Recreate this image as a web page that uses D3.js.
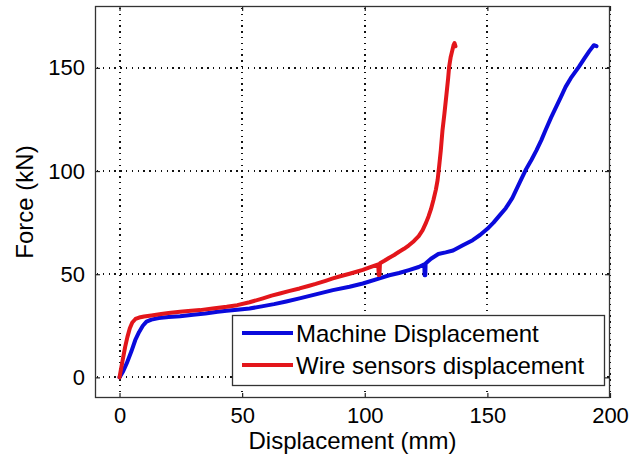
<!DOCTYPE html>
<html><head><meta charset="utf-8">
<script src="https://cdn.jsdelivr.net/npm/d3@7"></script>
<style>body{margin:0;background:#fff}svg{display:block}text{font-family:"Liberation Sans",Arial,sans-serif;fill:#000}</style>
</head><body><svg id="c" width="635" height="461"></svg>
<script>
const xTicks = [0, 50, 100, 150, 200];
const yTicks = [0, 50, 100, 150];
const seriesNames = ["Machine Displacement", "Wire sensors displacement"];
const machine = [[0,0],[1.5,3],[3,7],[4.8,12.5],[6.4,18],[8,22],[9.5,25],[11,27],[13,28],[16,28.8],[20,29.3],[24.7,29.6],[30,30.4],[35,31],[40,31.8],[43.7,32.3],[48,32.8],[53,33.4],[58,34.4],[63,35.5],[68,36.8],[73.4,38.3],[80,40.2],[87,42.3],[93.8,43.9],[99.2,45.5],[106,48],[110,49.5],[114,50.6],[118,52],[122,53.5],[124.3,54.8],[124.4,49.5],[124.7,49.5],[124.8,55.2],[127,57.5],[130,59.8],[133,60.6],[136,61.5],[140,64],[144,66.5],[147,69],[150,72],[152.5,75],[155,78.5],[157.5,82],[160.2,87],[163,94],[165.6,100.5],[168,105.5],[170,110],[172,115],[173.7,119.8],[176,126],[178,131],[180,136],[181.9,140.8],[184,145],[187.3,150.5],[189.5,154.5],[191.5,158],[193.4,161],[194.5,160.5]];
const wire = [[0,0],[0.6,4],[1.3,8.5],[2.3,14.8],[3.2,19.5],[4.2,23.8],[5.2,26.6],[6.5,28.3],[8,29],[10,29.5],[13,30],[17,30.7],[20,31.2],[24.7,31.8],[28,32.2],[32.8,32.6],[38,33.4],[43.7,34.2],[48,35],[53,36.4],[58.5,38.3],[62,39.6],[65,40.5],[69,41.8],[73.4,43.1],[77,44.3],[80,45.3],[84,46.8],[87,48],[90,49],[93.8,50.2],[97,51.3],[99.2,52.1],[102,53.3],[105.5,54.8],[105.7,49.6],[106,49.6],[106.2,55.3],[108,56.5],[110,58],[112,59.3],[114,60.9],[116,62.3],[118,64],[120,66],[122,68.5],[123.6,71.4],[125,75],[126,78],[127,81.5],[128,86],[129,91],[129.7,95.6],[130.3,102],[131,110],[131.7,119.8],[132.5,128],[133.3,137],[134,145],[134.4,150.5],[135,155],[135.6,158],[136.2,161],[136.6,162],[137,160.5]];

const W = 635, H = 461;
const m = {left: 95, right: 25, top: 6, bottom: 63};
const svg = d3.select("#c");
const x = d3.scaleLinear().domain([-10, 200]).range([m.left, W - m.right]);
const y = d3.scaleLinear().domain([-10, 180]).range([H - m.bottom, m.top]);
const x0 = x.range()[0], x1 = x.range()[1], y0 = y.range()[0], y1 = y.range()[1];

svg.append("rect").attr("x", 0).attr("y", 0).attr("width", W).attr("height", H).attr("fill", "#fff");

// grid (black dotted)
const grid = svg.append("g").attr("stroke", "#111").attr("stroke-width", 1.4)
  .attr("stroke-dasharray", "1.4,4.4").attr("shape-rendering", "crispEdges");
grid.selectAll(".gx").data(xTicks).join("line")
  .attr("x1", d => Math.round(x(d))).attr("x2", d => Math.round(x(d)))
  .attr("y1", y1 + 2).attr("y2", y0);
grid.selectAll(".gy").data(yTicks).join("line")
  .attr("y1", d => Math.round(y(d))).attr("y2", d => Math.round(y(d)))
  .attr("x1", x0 + 2).attr("x2", x1);

// axes with inward ticks
const fs = 22;
const ax = svg.append("g").attr("transform", `translate(0,${y0})`)
  .call(d3.axisBottom(x).tickValues(xTicks).tickSizeInner(-5).tickSizeOuter(0).tickPadding(9));
const axT = svg.append("g").attr("transform", `translate(0,${y1})`)
  .call(d3.axisTop(x).tickValues(xTicks).tickSizeInner(-5).tickSizeOuter(0).tickFormat(""));
const ay = svg.append("g").attr("transform", `translate(${x0},0)`)
  .call(d3.axisLeft(y).tickValues(yTicks).tickSizeInner(-5).tickSizeOuter(0).tickPadding(10));
const ayR = svg.append("g").attr("transform", `translate(${x1},0)`)
  .call(d3.axisRight(y).tickValues(yTicks).tickSizeInner(-5).tickSizeOuter(0).tickFormat(""));
[ax, axT, ay, ayR].forEach(g => {
  g.select(".domain").remove();
  g.selectAll("line").attr("stroke", "#222").attr("stroke-width", 1.2);
  g.selectAll("text").style("font-family", "'Liberation Sans', Arial, sans-serif").style("font-size", fs + "px").attr("fill", "#000");
});

// lines
const line = d3.line().x(d => x(d[0])).y(d => y(d[1]));
svg.append("path").datum(machine).attr("d", line).attr("fill", "none")
  .attr("stroke", "#0a0adc").attr("stroke-width", 4).attr("stroke-linejoin", "round").attr("stroke-linecap", "round");
svg.append("path").datum(wire).attr("d", line).attr("fill", "none")
  .attr("stroke", "#e3161b").attr("stroke-width", 4).attr("stroke-linejoin", "round").attr("stroke-linecap", "round");

// box
svg.append("rect").attr("x", x0 + 0.5).attr("y", y1 + 0.5).attr("width", x1 - x0 - 1).attr("height", y0 - y1 - 1)
  .attr("fill", "none").attr("stroke", "#333").attr("stroke-width", 1.3);

// axis titles
svg.append("text").attr("x", (x0 + x1) / 2).attr("y", 449).attr("text-anchor", "middle")
  .style("font-size", "24px").text("Displacement (mm)");
svg.append("text").attr("transform", `translate(33,${(y0 + y1) / 2}) rotate(-90)`).attr("text-anchor", "middle")
  .style("font-size", "24px").text("Force (kN)");

// legend
const lg = svg.append("g");
lg.append("rect").attr("x", 232.5).attr("y", 315.5).attr("width", 372).attr("height", 70)
  .attr("fill", "#fff").attr("stroke", "#333").attr("stroke-width", 1.3);
const colors = ["#0a0adc", "#e3161b"];
seriesNames.forEach((n, i) => {
  const cy = 333 + i * 32;
  lg.append("line").attr("x1", 242).attr("x2", 293).attr("y1", cy).attr("y2", cy)
    .attr("stroke", colors[i]).attr("stroke-width", 4);
  lg.append("text").attr("x", 296).attr("y", cy).attr("dy", "0.36em").style("font-size", "24px").text(n);
});
</script></body></html>
